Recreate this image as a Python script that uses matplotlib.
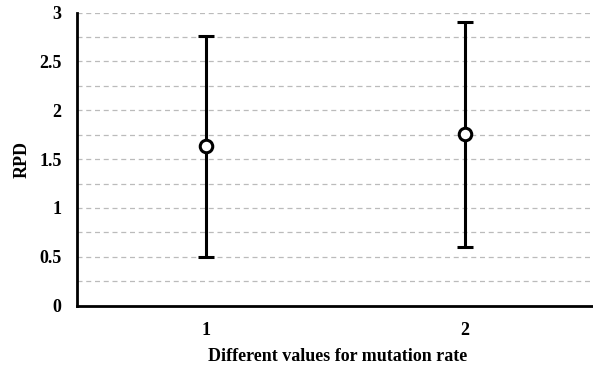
import matplotlib
matplotlib.use("Agg")
import matplotlib.pyplot as plt
import numpy as np

categories = ["1", "2"]
means = [1.635, 1.757]
upper = [2.76, 2.90]
lower = [0.495, 0.598]

plt.rcParams['font.family'] = ['Liberation Serif', 'DejaVu Serif']
plt.rcParams['font.weight'] = 'bold'

fig = plt.figure(figsize=(5.93, 3.68), dpi=100)
ax = fig.add_axes([77/593, 1 - 305.7/368, (593-77)/593 + 0.01, (305.7-12.5)/368])

x = np.arange(1, len(categories) + 1)
yerr = [np.array(means) - np.array(lower), np.array(upper) - np.array(means)]
ax.errorbar(x, means, yerr=yerr, fmt='o', color='black', ecolor='black',
            elinewidth=2.2, capsize=5.5, capthick=3, markersize=9,
            markerfacecolor='white', markeredgecolor='black', markeredgewidth=2.2,
            zorder=3)

ax.set_xlim(0.5, 2.5 + 0.02)
ax.set_ylim(0, 3)
ax.set_xticks(x)
ax.set_xticklabels(categories)
ax.set_yticks([0, 0.5, 1, 1.5, 2, 2.5, 3])
ax.set_yticklabels(["0", "0.5", "1", "1.5", "2", "2.5", "3"])
for v in np.arange(0.25, 3.01, 0.25):
    ax.axhline(v, color='#bbbbbb', linestyle=(0, (4, 3)), linewidth=0.9, zorder=1)

for s in ['top', 'right']:
    ax.spines[s].set_visible(False)
for s in ['left', 'bottom']:
    ax.spines[s].set_linewidth(2)
    ax.spines[s].set_color('black')
ax.tick_params(axis='both', length=0, labelsize=13)
ax.tick_params(axis='y', pad=11)
ax.tick_params(axis='x', pad=12)
for lbl in ax.get_xticklabels() + ax.get_yticklabels():
    lbl.set_fontweight('bold')

ax.set_xlabel("Different values for mutation rate", fontsize=13, fontweight='bold', labelpad=6)
fig.text(22/593, 1 - 159/368, "RPD", rotation=90, ha='center', va='center',
         fontsize=13, fontweight='bold')

fig.savefig("out.png", dpi=100)
